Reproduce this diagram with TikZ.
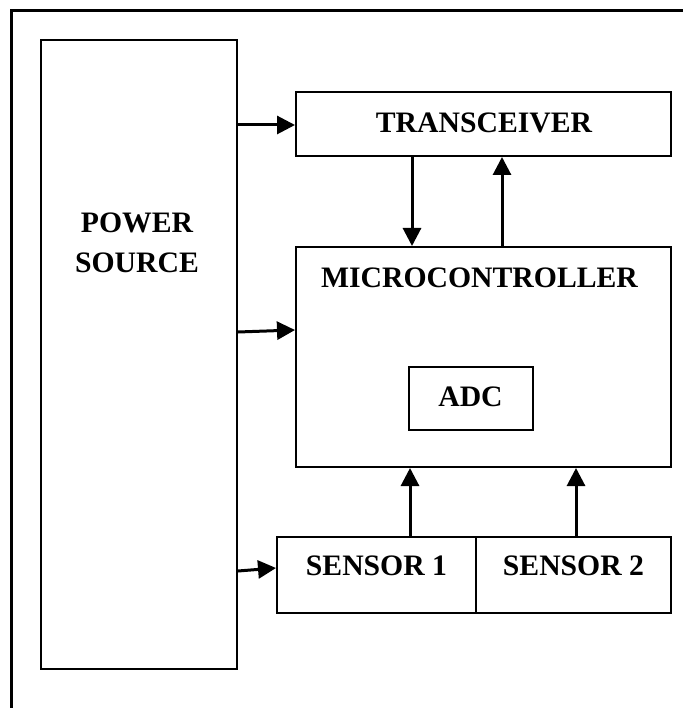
\documentclass[tikz,border=0pt]{standalone}
\usepackage{fontspec}
\setmainfont{Liberation Serif}
\usetikzlibrary{arrows.meta}
\begin{document}
\begin{tikzpicture}[x=1pt,y=-1pt,
  box/.style={draw,line width=2pt,rectangle,inner sep=0pt},
  lbl/.style={inner sep=0pt,font=\fontsize{29.7}{40}\selectfont\bfseries,align=center},
  arr/.style={line width=3pt,-{Triangle[length=18pt,width=18pt]}},
  frame/.style={line width=3pt}]
\useasboundingbox (0,0) rectangle (683,708);
\coordinate (fa) at (11.5,708);
\coordinate (fb) at (11.5,10.5);
\coordinate (fc) at (683,10.5);
\draw[frame] (fa) -- (fb) -- (fc);
% boxes
\node[box,minimum width=196pt,minimum height=629pt] (pw) at (139,354.5) {};
\node[box,minimum width=375pt,minimum height=64pt] (tr) at (483.5,124) {};
\node[box,minimum width=375pt,minimum height=220pt] (mc) at (483.5,357) {};
\node[box,minimum width=124pt,minimum height=63pt] (adc) at (471,398.5) {};
\node[box,minimum width=199pt,minimum height=76pt] (s1) at (376.5,575) {};
\node[box,minimum width=195pt,minimum height=76pt] (s2) at (573.5,575) {};
% labels
\node[lbl] (pwt) at (137,242.5) {POWER\\SOURCE};
\node[lbl] (trt) at (484,122.5) {TRANSCEIVER};
\node[lbl] (mct) at (479.5,277.5) {MICROCONTROLLER};
\node[lbl] (adct) at (470.5,396.5) {ADC};
\node[lbl] (s1t) at (376.5,566) {SENSOR 1};
\node[lbl] (s2t) at (573.5,566) {SENSOR 2};
% connectors
\draw[arr] ([yshift=229.5pt]pw.east) -- ([yshift=-1pt]tr.west);
\draw[arr] ([yshift=22.5pt]pw.east) -- ([yshift=27pt]mc.west);
\draw[arr] ([yshift=-216.5pt]pw.east) -- ([yshift=7pt]s1.west);
\draw[arr] ([xshift=-71.5pt]tr.south) -- ([xshift=-71.5pt]mc.north);
\draw[arr] ([xshift=18.5pt]mc.north) -- ([xshift=18.5pt]tr.south);
\draw[arr] ([xshift=33.5pt]s1.north) -- ([xshift=-73.5pt]mc.south);
\draw[arr] ([xshift=2.5pt]s2.north) -- ([xshift=92.5pt]mc.south);
\end{tikzpicture}
\end{document}
